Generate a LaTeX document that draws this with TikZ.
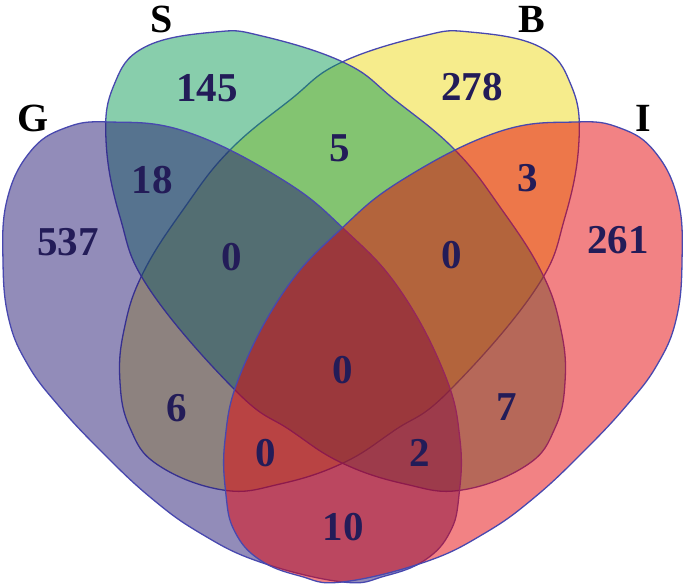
\documentclass[tikz,border=0pt]{standalone}
\usepackage{fontspec}
\setmainfont{Liberation Serif}
\begin{document}
\begin{tikzpicture}[x=1pt,y=-1pt]
\definecolor{cG}{RGB}{37,25,115}
\definecolor{cS}{RGB}{17,157,89}
\definecolor{cB}{RGB}{237,217,25}
\definecolor{cI}{RGB}{229,5,9}
\definecolor{edge}{RGB}{72,72,175}
\definecolor{numc}{RGB}{35,28,88}
\tikzset{
  setshape/.style={draw=edge, line width=1.3pt, fill opacity=0.5},
  num/.style={font=\fontsize{41}{41}\selectfont\bfseries, text=numc, inner sep=0pt},
  lab/.style={font=\fontsize{40}{40}\selectfont\bfseries, text=black, inner sep=0pt}
}
\useasboundingbox (0,0) rectangle (685,584);
% B (yellow)
\draw[setshape, fill=cB] plot[smooth cycle, tension=0.7] coordinates {(470,32) (423,36) (340,63) (290,100) (230,150) (185,207) (143,273) (124,330) (120,382) (130,428) (158,465) (223,490) (280,484) (343,463) (395,430) (448,392) (535,290) (565,217) (579,140) (571,85) (540,47)};
% S (green)
\draw[setshape, fill=cS] plot[smooth cycle, tension=0.7] coordinates {(215,32) (262,36) (345,63) (395,100) (455,150) (500,207) (542,273) (561,330) (565,382) (555,428) (527,465) (462,490) (405,484) (342,463) (290,430) (237,392) (150,290) (120,217) (106,140) (114,85) (145,47)};
% G (purple)
\draw[setshape, fill=cG] plot[smooth cycle, tension=0.7] coordinates {(110,122) (187,132) (283,180) (345,230) (400,290) (445,375) (460,440) (459,495) (450,532) (425,560) (385,576) (343,582) (260,562) (200,533) (150,497) (100,450) (58,405) (28,365) (9,320) (3,262) (7,200) (30,152) (65,128)};
% I (red)
\draw[setshape, fill=cI] plot[smooth cycle, tension=0.7] coordinates {(575,122) (498,132) (402,180) (340,230) (285,290) (240,375) (225,440) (226,495) (235,532) (260,560) (300,576) (342,582) (425,562) (485,533) (535,497) (585,450) (627,405) (657,365) (676,320) (682,262) (678,200) (655,152) (620,128)};
% set labels
\node[lab] (labG) at (33,118) {G};
\node[lab] (labS) at (162,19) {S};
\node[lab] (labB) at (532,19) {B};
\node[lab] (labI) at (643,118) {I};
% counts
\node[num] (nG) at (68,242) {537};
\node[num] (nS) at (207,88) {145};
\node[num] (nB) at (472,87) {278};
\node[num] (nI) at (618,240) {261};
\node[num] (nGS) at (152,180) {18};
\node[num] (nSB) at (340,148) {5};
\node[num] (nBI) at (528,178) {3};
\node[num] (nGSB) at (232,257) {0};
\node[num] (nSBI) at (452,255) {0};
\node[num] (nAll) at (343,370) {0};
\node[num] (nGB) at (177,408) {6};
\node[num] (nSI) at (507,407) {7};
\node[num] (nGBI) at (266,453) {0};
\node[num] (nGSI) at (420,453) {2};
\node[num] (nGI) at (343,527) {10};
\end{tikzpicture}
\end{document}
